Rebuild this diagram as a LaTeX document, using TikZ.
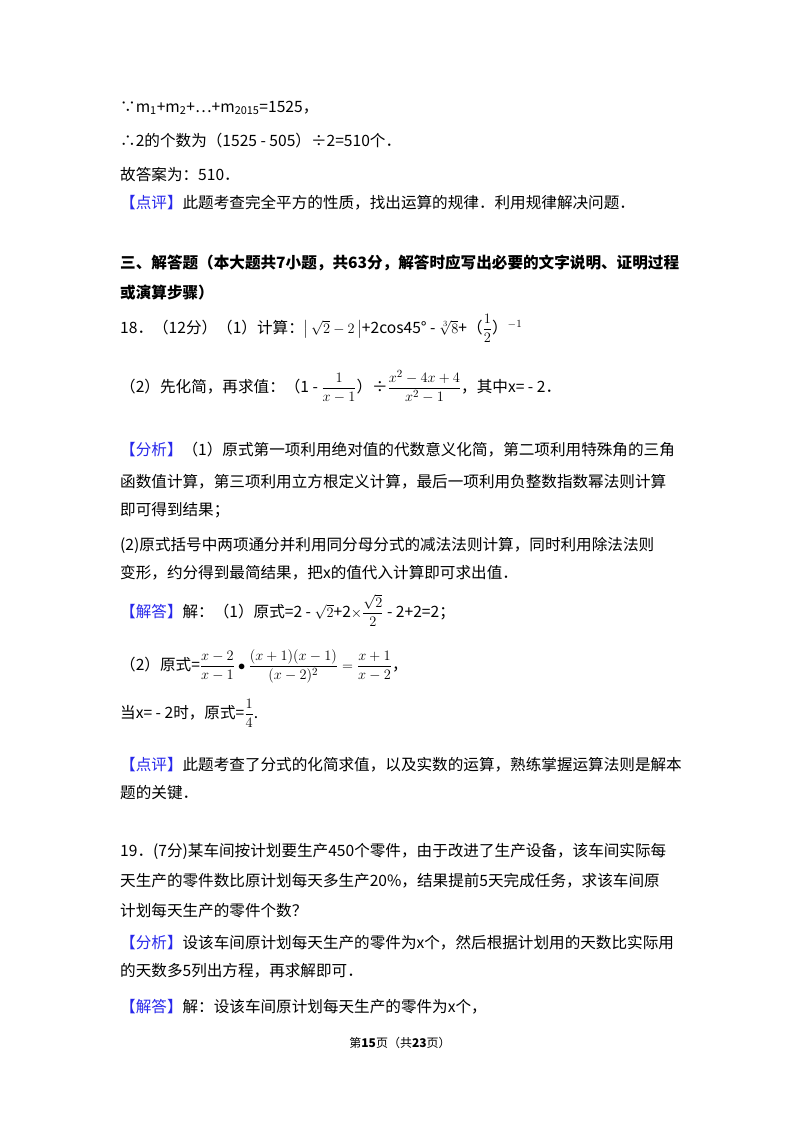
\documentclass[tikz,border=0pt]{standalone}
\usepackage{fontspec}
\setmainfont{Noto Sans CJK SC}
\usepackage{amsmath}
\definecolor{kb}{RGB}{40,40,235}
\tikzset{t/.style={anchor=base west,inner sep=0pt,font=\fontsize{15.6}{18}\selectfont}}
\newcommand{\kbb}[1]{\textcolor{kb}{#1}}
\begin{document}
\begin{tikzpicture}[x=1pt,y=-1pt]
\useasboundingbox[fill=white] (0,0) rectangle (800,1132);
\node[t] (l1) at (120,112) {∵m\textsubscript{1}+m\textsubscript{2}+…+m\textsubscript{2015}=1525，};
\node[t] (l2) at (120,146) {∴2的个数为（1525 - 505）÷2=510个．};
\node[t] (l3) at (120,180) {故答案为：510．};
\node[t] (l4) at (120,208) {\kbb{【点评】}此题考查完全平方的性质，找出运算的规律．利用规律解决问题．};
\node[t,font=\fontsize{15.6}{18}\selectfont\bfseries] (l5) at (120,268) {三、解答题（本大题共7小题，共63分，解答时应写出必要的文字说明、证明过程};
\node[t,font=\fontsize{15.6}{18}\selectfont\bfseries] (l6) at (120,298) {或演算步骤）};
\node[t] (l7) at (120,333) {18．（12分）（1）计算：$\left|\,\sqrt{2}-2\,\right|$+2cos45° - $\sqrt[3]{8}$+（$\dfrac{1}{2}$）$^{-1}$};
\node[t] (l8) at (120,392) {（2）先化简，再求值：（1 - $\dfrac{1}{x-1}$）÷$\dfrac{x^2-4x+4}{x^2-1}$，其中x= - 2．};
\node[t] (l9) at (120,455) {\kbb{【分析】}（1）原式第一项利用绝对值的代数意义化简，第二项利用特殊角的三角};
\node[t] (l10) at (120,487) {函数值计算，第三项利用立方根定义计算，最后一项利用负整数指数幂法则计算};
\node[t] (l11) at (120,515) {即可得到结果；};
\node[t] (l12) at (120,550) {(2)原式括号中两项通分并利用同分母分式的减法法则计算，同时利用除法法则};
\node[t] (l13) at (120,578) {变形，约分得到最简结果，把x的值代入计算即可求出值．};
\node[t] (l14) at (120,617) {\kbb{【解答】}解：（1）原式=2 - $\sqrt{2}$+2$\times\dfrac{\sqrt{2}}{2}$ - 2+2=2；};
\node[t] (l15) at (120,670) {（2）原式=$\dfrac{x-2}{x-1}\bullet\dfrac{(x+1)(x-1)}{(x-2)^2}=\dfrac{x+1}{x-2}$，};
\node[t] (l16) at (120,718) {当x= - 2时，原式=$\dfrac{1}{4}$.};
\node[t] (l17) at (120,770) {\kbb{【点评】}此题考查了分式的化简求值，以及实数的运算，熟练掌握运算法则是解本};
\node[t] (l18) at (120,798) {题的关键．};
\node[t] (l19) at (120,856) {19．(7分)某车间按计划要生产450个零件，由于改进了生产设备，该车间实际每};
\node[t] (l20) at (120,886) {天生产的零件数比原计划每天多生产20\%，结果提前5天完成任务，求该车间原};
\node[t] (l21) at (120,916) {计划每天生产的零件个数？};
\node[t] (l22) at (120,948) {\kbb{【分析】}设该车间原计划每天生产的零件为x个，然后根据计划用的天数比实际用};
\node[t] (l23) at (120,976) {的天数多5列出方程，再求解即可．};
\node[t] (l24) at (120,1012) {\kbb{【解答】}解：设该车间原计划每天生产的零件为x个，};
\node[anchor=base,inner sep=0pt,font=\fontsize{12}{14}\selectfont] (ft) at (400,1047) {第\textbf{15}页（共\textbf{23}页）};
\end{tikzpicture}
\end{document}
